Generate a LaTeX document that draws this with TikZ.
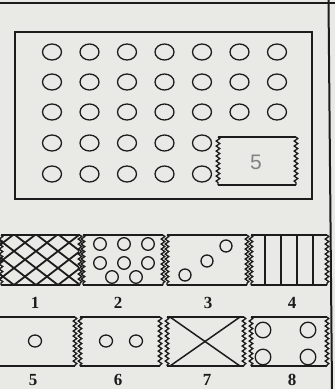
\documentclass[tikz,border=0pt]{standalone}
\usepackage{fontspec}
\setmainfont{Liberation Serif}
\newfontfamily\handfont{Liberation Sans}
\usetikzlibrary{decorations.pathmorphing}
\definecolor{paper}{RGB}{233,233,230}
\definecolor{ink}{RGB}{28,28,28}
\definecolor{pencil}{RGB}{130,130,130}
\newcommand\wavypiece[4]{%
  \draw[edge] (#1,#3) -- (#2,#3);
  \draw[edge] (#1,#4) -- (#2,#4);
  \draw[edge,wavy] (#1,#3) -- (#1,#4);
  \draw[edge,wavy] (#2,#3) -- (#2,#4);
}
\begin{document}
\begin{tikzpicture}[x=1pt,y=-1pt,
  edge/.style={draw=ink, line width=1.5pt},
  wavy/.style={decorate, line width=1.3pt, decoration={snake, segment length=5pt, amplitude=1.8pt}},
  hole/.style={draw=ink, line width=1.3pt},
  hatch/.style={draw=ink, line width=1.8pt},
  lbl/.style={font=\fontsize{17}{20}\selectfont\bfseries, text=ink, inner sep=0pt},
]
\useasboundingbox (0,0) rectangle (335,389);
\fill[paper] (0,0) rectangle (335,389);
\clip (0,0) rectangle (335,389);

% frame lines of the page
\draw[edge, line width=2pt] (0,3) -- (335,3);
\draw[edge, line width=2pt] (328.5,0) -- (332,389);

% main board
\draw[edge, line width=1.6pt] (15,32) rectangle (312,199);
\foreach \y in {52,82,112} {
  \foreach \x in {52,89.5,127,164.5,202,239.5,277} {
    \draw[hole] (\x,\y) ellipse [x radius=9.5pt, y radius=8pt];
  }
}
\foreach \y in {143,174} {
  \foreach \x in {52,89.5,127,164.5,202} {
    \draw[hole] (\x,\y) ellipse [x radius=9.5pt, y radius=8pt];
  }
}
% gap piece in board
\wavypiece{218}{296}{137}{185}
\node[font=\handfont\fontsize{21}{24}\selectfont, text=pencil, inner sep=0pt] (gap) at (256,162) {5};

% ---------- row 1 ----------
% piece 1 (cross hatch)
\wavypiece{1}{80}{235}{285}
\begin{scope}
  \clip (0,235) rectangle (79,285);
  \foreach \s in {-117,-95,...,101} {
    \draw[hatch] (\s,235) -- (\s+65,285);
  }
  \foreach \s in {-9,13,...,167} {
    \draw[hatch] (\s,235) -- (\s-65,285);
  }
\end{scope}
% piece 2
\wavypiece{83}{163}{235}{285}
\foreach \x/\y in {100/244,124/244,148/244,100/263,124/263,148/263,112/277,136/277} {
  \draw[hole] (\x,\y) circle [radius=6.3pt];
}
% piece 3
\wavypiece{167}{247}{235}{285}
\foreach \x/\y in {185/275,207/261,226/246} {
  \draw[hole] (\x,\y) circle [radius=6pt];
}
% piece 4
\wavypiece{251}{327}{235}{285}
\foreach \x in {265,281,297,313} {
  \draw[edge] (\x,235) -- (\x,285);
}

% ---------- row 2 ----------
% piece 5
\wavypiece{-6}{75}{317}{366}
\draw[hole] (35,341) ellipse [x radius=6.5pt, y radius=6pt];
% piece 6
\wavypiece{80}{160}{317}{366}
\draw[hole] (106,341) ellipse [x radius=6.5pt, y radius=6pt];
\draw[hole] (136,341) ellipse [x radius=6.5pt, y radius=6pt];
% piece 7
\wavypiece{167}{244}{317}{366}
\draw[edge] (170,317) -- (240,366);
\draw[edge] (170,366) -- (240,317);
% piece 8
\wavypiece{251}{327}{317}{366}
\foreach \x/\y in {263/330,308/330,263/357,308/357} {
  \draw[hole] (\x,\y) circle [radius=7.8pt];
}

% labels
\node[lbl] (l1) at (35,303) {1};
\node[lbl] (l2) at (118,303) {2};
\node[lbl] (l3) at (208,303) {3};
\node[lbl] (l4) at (292,303) {4};
\node[lbl] (l5) at (33,380) {5};
\node[lbl] (l6) at (118,380) {6};
\node[lbl] (l7) at (207,380) {7};
\node[lbl] (l8) at (292,380) {8};
\end{tikzpicture}
\end{document}
